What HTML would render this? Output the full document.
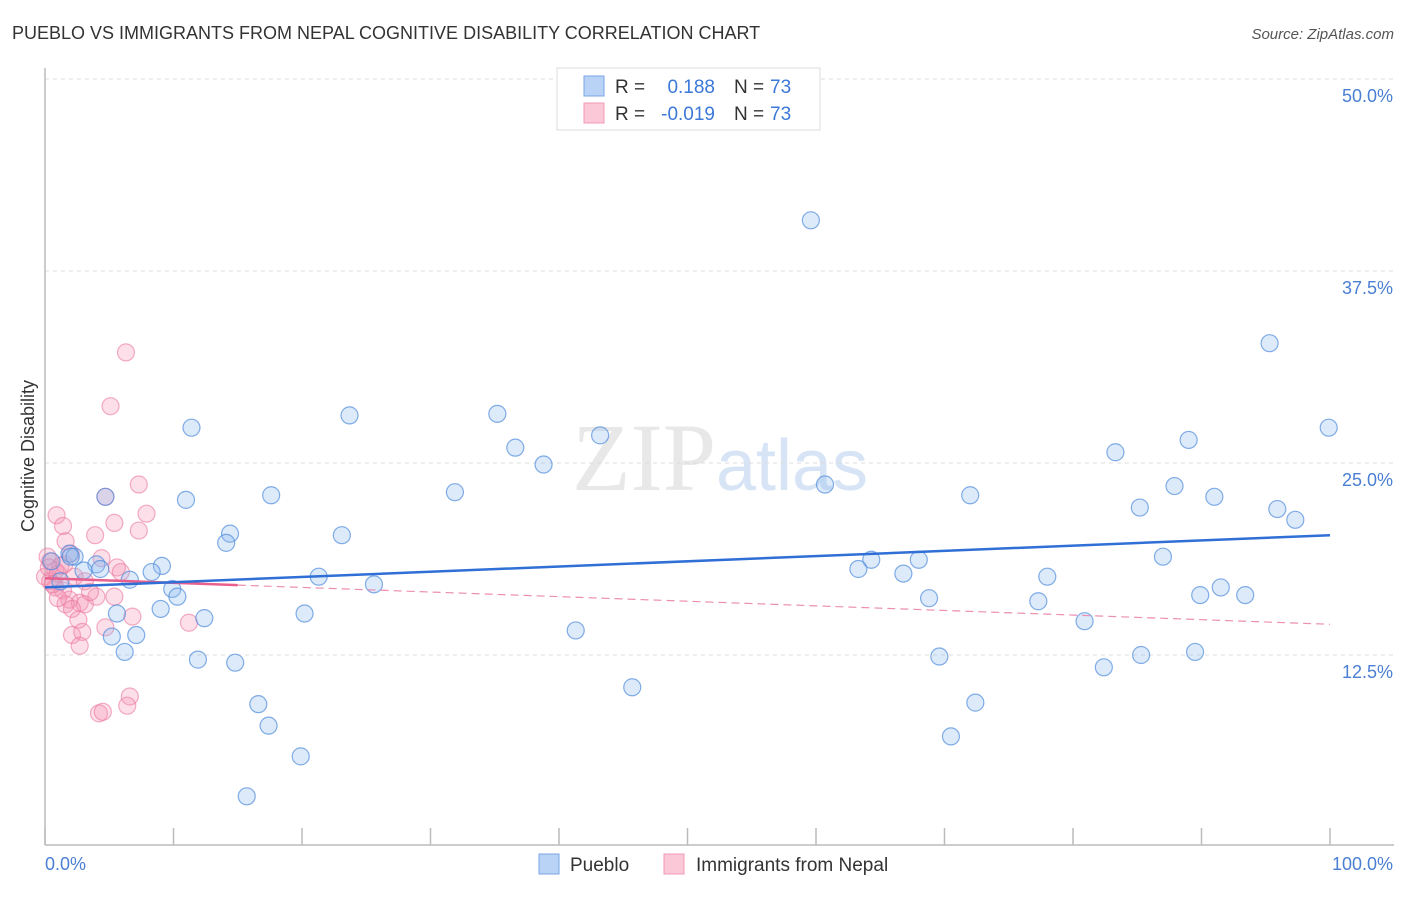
<!DOCTYPE html>
<html><head><meta charset="utf-8"><style>
body{margin:0;background:#fff;font-family:"Liberation Sans",sans-serif;}
</style></head><body>
<svg id="chart" width="1406" height="892" xmlns="http://www.w3.org/2000/svg" font-family="Liberation Sans, sans-serif">
<text x="12" y="39" font-size="18" fill="#333">PUEBLO VS IMMIGRANTS FROM NEPAL COGNITIVE DISABILITY CORRELATION CHART</text>
<text x="1394" y="39" font-size="15" fill="#555" font-style="italic" text-anchor="end">Source: ZipAtlas.com</text>
<text x="720" y="490" font-size="96" text-anchor="middle" fill="#e8e8e8"><tspan font-family="Liberation Serif, serif">ZIP</tspan><tspan fill="#d6e4f5" font-size="72">atlas</tspan></text>
<g id="grid"></g>
<line x1="45" y1="68" x2="45" y2="845" stroke="#bbb" stroke-width="1.5"/>
<line x1="45" y1="845" x2="1394" y2="845" stroke="#bbb" stroke-width="1.5"/>
<text transform="translate(34,456) rotate(-90)" font-size="18" fill="#333" text-anchor="middle">Cognitive Disability</text>
<text x="45" y="870" font-size="18" fill="#4a7fd4">0.0%</text>
<text x="1393" y="870" font-size="18" fill="#4a7fd4" text-anchor="end">100.0%</text>
<g id="points"></g>
<g id="trends"></g>
<g>
<rect x="557" y="68" width="263" height="62" fill="#fff" stroke="#ddd"/>
<rect x="584" y="76" width="20" height="20" fill="#b8d3f5" stroke="#7aa6e6"/>
<rect x="584" y="103" width="20" height="20" fill="#fbc8d8" stroke="#f09ab6"/>
<text x="615" y="93" font-size="19" fill="#333">R =</text><text x="715" y="93" font-size="19" fill="#3b78d8" text-anchor="end">0.188</text>
<text x="734" y="93" font-size="19" fill="#333">N =</text><text x="770" y="93" font-size="19" fill="#3b78d8">73</text>
<text x="615" y="120" font-size="19" fill="#333">R =</text><text x="715" y="120" font-size="19" fill="#3b78d8" text-anchor="end">-0.019</text>
<text x="734" y="120" font-size="19" fill="#333">N =</text><text x="770" y="120" font-size="19" fill="#3b78d8">73</text>
</g>
<g>
<rect x="539" y="854" width="20" height="20" fill="#b8d3f5" stroke="#7aa6e6"/>
<text x="570" y="871" font-size="19" fill="#333">Pueblo</text>
<rect x="664" y="854" width="20" height="20" fill="#fbc8d8" stroke="#f09ab6"/>
<text x="696" y="871" font-size="19" fill="#333">Immigrants from Nepal</text>
</g>
</svg>
<script>
const yTicks=[12.5,25,37.5,50];
const yTickLabels=["12.5%","25.0%","37.5%","50.0%"];
const xTicks=[0,10,20,30,40,50,60,70,80,90,100];
const puebloX=[59.6,95.3,99.9,23.7,35.2,11.4,36.6,43.2,38.8,83.3,89.0,31.9,60.7,87.9,91.0,72.0,10.97,17.6,4.7,85.2,95.9,97.3,14.4,14.1,23.1,64.3,68.0,63.3,87.0,9.1,4.0,8.3,4.3,21.3,78.0,66.8,25.6,9.9,10.3,91.5,89.9,93.4,68.8,77.3,9.0,5.6,20.2,12.4,80.9,41.3,5.2,7.1,6.2,11.9,14.8,69.6,85.3,89.5,82.4,45.7,72.4,16.6,17.4,70.5,19.9,15.7,1.9,2.3,0.5,1.2,3.0,6.6,2.0];
const puebloY=[40.8,32.8,27.3,28.1,28.2,27.3,26.0,26.8,24.9,25.7,26.5,23.1,23.6,23.5,22.8,22.9,22.6,22.9,22.8,22.1,22.0,21.3,20.4,19.8,20.3,18.7,18.7,18.1,18.9,18.3,18.4,17.9,18.1,17.6,17.6,17.8,17.1,16.8,16.3,16.9,16.4,16.4,16.2,16.0,15.5,15.2,15.2,14.9,14.7,14.1,13.7,13.8,12.7,12.2,12.0,12.4,12.5,12.7,11.7,10.4,9.4,9.3,7.9,7.2,5.9,3.3,19.1,18.9,18.6,17.3,18.0,17.4,18.9];
const nepalX=[6.3,5.1,7.3,4.7,7.9,0.9,5.4,7.3,1.4,3.9,1.6,2.0,4.4,5.6,5.9,0.4,0.8,0.0,1.2,2.3,3.1,1.4,1.9,2.7,3.1,1.6,2.1,4.0,5.4,2.6,2.1,2.9,4.7,6.8,11.2,2.7,6.6,6.4,4.2,4.5,0.4,0.8,0.2,3.5,1.0,0.3,1.0,1.5,0.6];
const nepalY=[32.2,28.7,23.6,22.8,21.7,21.6,21.1,20.6,20.9,20.3,19.9,19.1,18.8,18.2,17.9,18.6,18.0,17.6,18.3,17.6,17.3,16.7,16.1,15.9,15.8,15.8,15.5,16.3,16.3,14.8,13.8,14.0,14.3,15.0,14.6,13.1,9.8,9.2,8.7,8.8,17.3,16.9,18.9,16.6,16.2,18.2,17.8,18.4,17.1];
const puebloTrend=[16.9,20.3];
const nepalTrend=[17.5,14.5];
const X0=45,X1=1330,Y0=847,YPX=192/12.5;
const sx=v=>X0+(X1-X0)*v/100, sy=v=>Y0-v*YPX;
const NS="http://www.w3.org/2000/svg";
function mk(tag,attrs,parent){const e=document.createElementNS(NS,tag);for(const k in attrs)e.setAttribute(k,attrs[k]);parent.appendChild(e);return e;}
const grid=document.getElementById('grid');
yTicks.forEach((t,i)=>{
 const l=mk('line',{x1:45,x2:1394,y1:sy(t),y2:sy(t),stroke:'#ddd','stroke-dasharray':'4,4'},grid);
 
 
 const tx=mk('text',{x:1393,y:sy(t)+23,'font-size':18,fill:'#4a7fd4','text-anchor':'end'},grid);
 tx.textContent=yTickLabels[i];
 
 
});
xTicks.forEach(t=>{
 const l=mk('line',{x1:sx(t),x2:sx(t),y1:828,y2:845,stroke:'#bbb','stroke-width':1.5},grid);
 
 
});
const pts=document.getElementById('points');
nepalX.forEach((x,i)=>{
 const c=mk('circle',{cx:sx(x),cy:sy(nepalY[i]),r:8.5,fill:'rgba(245,150,180,0.3)',stroke:'rgba(235,120,160,0.6)','stroke-width':1.2},pts);
 
 
});
puebloX.forEach((x,i)=>{
 const c=mk('circle',{cx:sx(x),cy:sy(puebloY[i]),r:8.5,fill:'rgba(140,185,240,0.3)',stroke:'rgba(80,140,220,0.7)','stroke-width':1.2},pts);
 
 
});
const tr=document.getElementById('trends');
const nAt=x=>nepalTrend[0]+(nepalTrend[1]-nepalTrend[0])*x/100;
let l1=mk('line',{x1:sx(15),y1:sy(nAt(15)),x2:sx(100),y2:sy(nAt(100)),stroke:'#ec8fb0','stroke-width':1.2,'stroke-dasharray':'8,5'},tr);


let l2=mk('line',{x1:sx(0),y1:sy(nAt(0)),x2:sx(15),y2:sy(nAt(15)),stroke:'#e8608e','stroke-width':2.5},tr);


let l3=mk('line',{x1:sx(0),y1:sy(puebloTrend[0]),x2:sx(100),y2:sy(puebloTrend[1]),stroke:'#2f6fd6','stroke-width':2.5},tr);


</script>
</body></html>
